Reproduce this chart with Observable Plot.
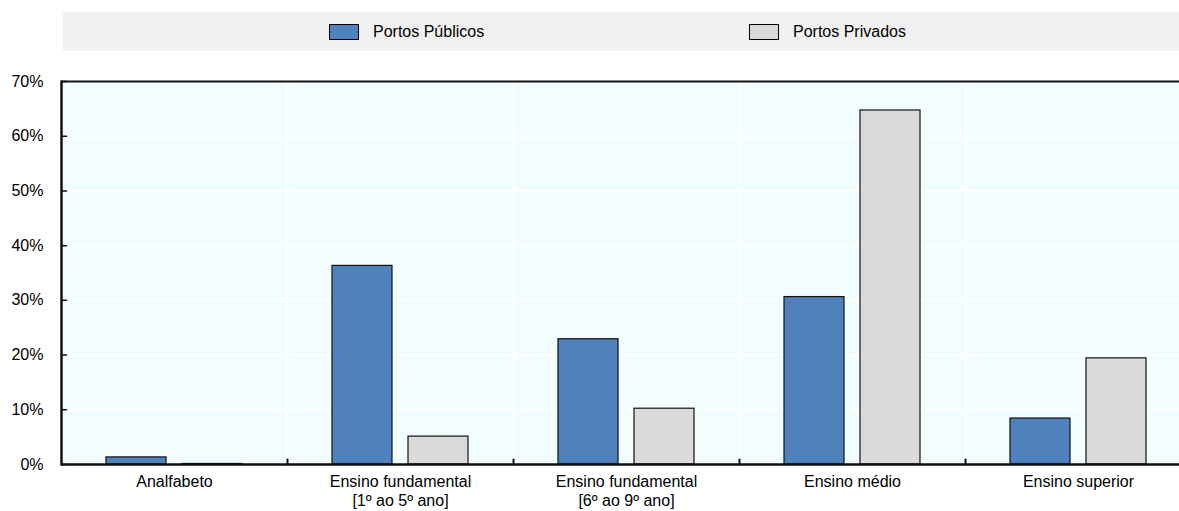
<!DOCTYPE html>
<html>
<head>
<meta charset="utf-8">
<script src="https://cdn.jsdelivr.net/npm/d3@7"></script>
<script src="https://cdn.jsdelivr.net/npm/@observablehq/plot@0.6"></script>
<style>
  html, body { margin: 0; padding: 0; background: #fff; overflow: hidden; }
  body { width: 1179px; height: 511px; position: relative;
         font-family: "Liberation Sans Narrow", "Arial Narrow", "Liberation Sans", Arial, sans-serif; }
  #legend { position: absolute; top: 12px; left: 63px; right: 0; height: 39px; background: #f0f0f0; }
  .item { position: absolute; top: 0; height: 39px; display: flex; align-items: center; font-size: 16px; color: #000; }
  .sw { width: 28px; height: 14px; border: 1px solid #000; margin-right: 14px; }
  #chart { position: absolute; top: 60px; left: 0; width: 1200px; }
  #chart svg { max-width: none !important; }
</style>
</head>
<body>
<div id="legend"></div>
<div id="chart"></div>
<script>
const categories = ["Analfabeto", "Ensino fundamental\n[1º ao 5º ano]", "Ensino fundamental\n[6º ao 9º ano]", "Ensino médio", "Ensino superior"];
const series = ["Portos Públicos", "Portos Privados"];
const publicos = [1.3, 36.3, 22.9, 30.6, 8.4];
const privados = [0.1, 5.1, 10.2, 64.7, 19.4];
const yTicks = [0, 10, 20, 30, 40, 50, 60, 70];
const colors = ["#4f81bd", "#dadada"];

const data = categories.flatMap((c, i) => [
  {category: c, series: series[0], value: publicos[i]},
  {category: c, series: series[1], value: privados[i]}
]);

// legend
const legend = document.getElementById("legend");
const legendLeft = [266, 686];
series.forEach((s, i) => {
  const item = document.createElement("div");
  item.className = "item";
  item.style.left = legendLeft[i] + "px";
  const sw = document.createElement("div");
  sw.className = "sw";
  sw.style.background = colors[i];
  const t = document.createElement("span");
  t.textContent = s;
  item.appendChild(sw);
  item.appendChild(t);
  legend.appendChild(item);
});

const W = 1200, H = 454, mT = 21, mB = 50, mL = 61, mR = 9;
const plotH = H - mT - mB;
const lineShape = {draw(context, l) { context.moveTo(0, 0); context.lineTo(0, -l); }};

const chart = Plot.plot({
  width: W, height: H,
  marginTop: mT, marginBottom: mB, marginLeft: mL, marginRight: mR,
  style: {fontFamily: '"Liberation Sans Narrow", "Arial Narrow", "Liberation Sans", Arial, sans-serif', fontSize: "16px", color: "#000", background: "transparent", overflow: "visible", maxWidth: "none"},
  fx: {domain: categories, padding: 0, label: null, axis: null},
  x: {domain: series, paddingInner: 0.21, paddingOuter: 0.59, axis: null},
  y: {domain: [0, 70], axis: null},
  color: {domain: series, range: colors},
  marks: [
    Plot.frame({fill: "#f2fefe", stroke: "white", strokeWidth: 2}),
    Plot.ruleY(yTicks.slice(1, -1), {stroke: "white", strokeWidth: 2}),
    Plot.barY(data, {fx: "category", x: "series", y: "value", fill: "series", stroke: "#111", strokeWidth: 1.2}),
    Plot.ruleY([70], {stroke: "#111", strokeWidth: 2}),
    Plot.ruleY([0], {stroke: "#111", strokeWidth: 2.5}),
    Plot.vector([categories[0]], {fx: d => d, frameAnchor: "bottom-left", length: plotH, shape: lineShape, stroke: "#111", strokeWidth: 2.5, anchor: "start"}),
    Plot.vector(categories.slice(1), {fx: d => d, frameAnchor: "bottom-left", length: 5, shape: lineShape, stroke: "#111", strokeWidth: 2, anchor: "start"}),
    Plot.vector(yTicks, {y: d => d, fx: () => categories[0], frameAnchor: "left", rotate: 90, length: 5, shape: lineShape, stroke: "#111", strokeWidth: 1.5, anchor: "start"}),
    Plot.axisY(yTicks, {tickSize: 0, tickPadding: 18, tickFormat: d => d + "%", label: null, fill: "#000"}),
    Plot.axisFx({anchor: "bottom", tickSize: 0, tickPadding: 9, label: null, lineHeight: 1.2, fill: "#000"})
  ]
});
document.getElementById("chart").appendChild(chart);
</script>
</body>
</html>
